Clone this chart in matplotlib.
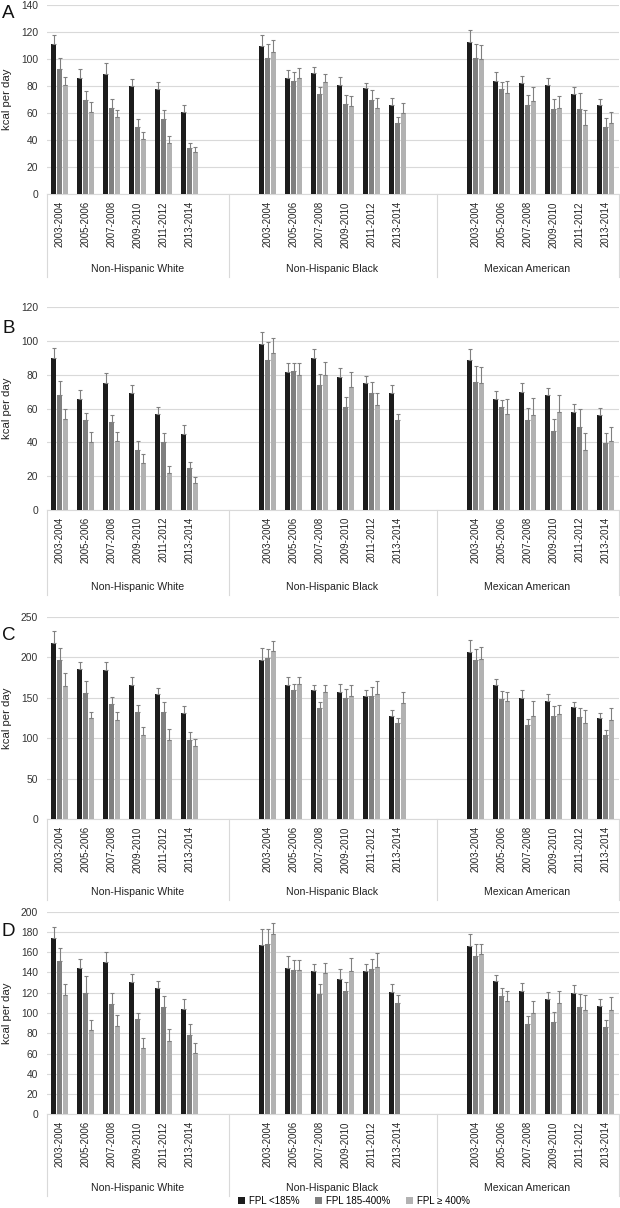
import numpy as np
import matplotlib
matplotlib.use('Agg')
import matplotlib.pyplot as plt
from matplotlib.patches import Patch
import matplotlib.transforms as mtransforms

plt.rcParams['font.family'] = ['Liberation Sans', 'DejaVu Sans']

years = ['2003-2004', '2005-2006', '2007-2008', '2009-2010', '2011-2012', '2013-2014']
groups = ['Non-Hispanic White', 'Non-Hispanic Black', 'Mexican American']
series = ['FPL <185%', 'FPL 185-400%', 'FPL \u2265 400%']
colors = ['#1c1c1c', '#7f7f7f', '#b2b2b2']
nan = np.nan

# values: White (6 years), Black (6 years), Mexican American (6 years)
# panel A
a_low = [111, 86, 89, 80, 78, 61, 110, 86, 90, 81, 78.5, 66, 113, 84, 82, 81, 74, 66]
a_mid = [93, 70, 64, 50, 56, 34, 101, 84, 74, 67, 70, 53, 101, 78, 66, 63, 63, 50]
a_high = [81, 61, 57, 41, 38, 31, 105, 86, 83, 65, 64, 60, 100, 75, 69, 64, 51, 53]
a_low_err = [6.6, 6.7, 8.1, 5, 5.2, 5.2, 7.9, 5.7, 4.2, 5.7, 4, 5.2, 8.4, 6.2, 5.4, 5.2, 5.7, 4.2]
a_mid_err = [7.9, 6.1, 6.2, 5.4, 6.4, 3.7, 10.1, 6.4, 5, 6.4, 6.9, 4.4, 10.1, 5.4, 7.4, 7.4, 11.8, 6.7]
a_high_err = [5.9, 6.9, 5.7, 5.2, 5.2, 4, 9.4, 7.6, 6.2, 7.6, 7.4, 7.2, 10.6, 8.9, 10.1, 8.9, 11.6, 7.6]

# panel B
b_low = [90, 66, 75, 69, 57, 45, 98, 81.5, 90, 79, 75, 69, 89, 66, 70, 68, 58, 56]
b_mid = [68, 53, 52, 35.5, 40, 25, 89, 82, 74, 61, 69, 53, 76, 61, 53, 47, 49, 39.5]
b_high = [54, 40, 41, 28, 22, 16, 93, 80, 80, 73, 62, nan, 75, 57, 56, 58, 35.5, 41]
b_low_err = [6.1, 4.8, 6.1, 5.1, 3.8, 5.3, 7.3, 5.3, 5.5, 4.8, 4.3, 4.9, 6.5, 4.6, 5.3, 4.1, 4.8, 4.2]
b_mid_err = [8.5, 4.7, 4.5, 5.2, 5.7, 3.7, 10.3, 5.3, 6.7, 5.7, 6.7, 4.1, 9.5, 4.3, 7.5, 6.7, 10.5, 6.3]
b_high_err = [5.5, 5.9, 5.4, 5.4, 4.1, 3.3, 8.6, 7.1, 7.5, 8.7, 7.3, nan, 9.5, 8.7, 10.5, 10.1, 10.1, 7.9]

# panel C
c_low = [217, 186, 184, 166, 155, 131, 197, 166, 159, 157, 152, 127, 206, 166, 150, 146, 139, 125]
c_mid = [196, 156, 142, 132, 132, 98, 199, 160, 137, 150, 152, 119, 196, 149, 116, 127, 126, 104]
c_high = [165, 125, 122, 104, 98, 90, 208, 167, 157, 152, 154, 144, 198, 146, 128, 130, 119, 122]
c_low_err = [15.2, 8.6, 9.9, 9.9, 7.4, 8.2, 13.9, 9.5, 6.6, 10.3, 7.4, 7.4, 15.6, 7, 9.8, 9, 5.7, 6.2]
c_mid_err = [15.2, 14.4, 9.4, 8.6, 12.3, 10.2, 11.1, 7, 7.4, 10.7, 11.6, 6.6, 14.4, 9.9, 7.8, 13.2, 11.5, 6.8]
c_high_err = [15.2, 7.4, 10.7, 10.3, 13.5, 9.5, 11.6, 8.7, 9, 14, 16.4, 12.8, 14.4, 11.5, 17.7, 10.7, 15.7, 15.7]

# panel D
d_low = [174, 144, 150, 131, 125, 104, 167, 144, 141, 134, 141, 121, 166, 132, 122, 114, 120, 107]
d_mid = [151, 120, 109, 94, 106, 78, 168, 142, 119, 122, 143, 110, 156, 117, 89, 91, 106, 86]
d_high = [118, 83, 87, 65.5, 72, 61, 178, 142, 139, 141, 145, nan, 158, 112, 100, 109.5, 103, 103]
d_low_err = [10.5, 9.8, 10.6, 7.2, 6.3, 9.5, 15.5, 11.8, 7.6, 9.2, 7.6, 7.9, 12.2, 5.3, 7.6, 7, 7.6, 6.6]
d_mid_err = [12.8, 16.1, 10.9, 5.6, 11.2, 10.9, 14.8, 10.2, 9.8, 8.9, 10.5, 7.5, 11.8, 7.5, 7.6, 10.2, 13.1, 7.2]
d_high_err = [10.5, 10.2, 11.5, 9.5, 12.2, 9.2, 11.1, 10.6, 9.9, 13.1, 14.5, nan, 9.9, 10.2, 11.9, 12.5, 15.1, 12.9]

panels = [
    ('A', [a_low, a_mid, a_high], [a_low_err, a_mid_err, a_high_err], 140, 20),
    ('B', [b_low, b_mid, b_high], [b_low_err, b_mid_err, b_high_err], 120, 20),
    ('C', [c_low, c_mid, c_high], [c_low_err, c_mid_err, c_high_err], 250, 50),
    ('D', [d_low, d_mid, d_high], [d_low_err, d_mid_err, d_high_err], 200, 20),
]

# layout in pixels: (top, bottom) of each plot area, group label row, panel letter
W, H = 620, 1208
boxes = [(5, 194.3), (307.3, 510), (616.7, 819.3), (911.7, 1114.3)]
group_y = [269, 587, 892, 1188]
letter_y = [13.5, 328, 636, 931]

# category slots: White 0-5, blank, blank, Black 8-13, blank, blank, Mexican 16-21
starts = [0, 8, 16]
xpos = np.array([s + i for s in starts for i in range(len(years))])
seps = [-0.5, 6.5, 14.5, 21.5]
group_centers = [(seps[k] + seps[k + 1]) / 2 for k in range(3)]
bw = 0.21
offs = [-0.225, 0, 0.225]

fig = plt.figure(figsize=(W / 100, H / 100), dpi=100)

for (letter, vals, errs, ymax, step), (top, bot), gy, ly in zip(panels, boxes, group_y, letter_y):
    ax = fig.add_axes([46.5 / W, 1 - bot / H, 572 / W, (bot - top) / H])
    for j in range(3):
        v = np.array(vals[j], dtype=float)
        e = np.array(errs[j], dtype=float)
        ax.bar(xpos + offs[j], v, width=bw, color=colors[j], zorder=3)
        ax.errorbar(xpos + offs[j], v, yerr=[np.zeros_like(e), e], fmt='none',
                    ecolor='#808080', elinewidth=0.8, capsize=1.6, capthick=0.8, zorder=4)
    ax.set_xlim(-0.5, 21.5)
    ax.set_ylim(0, ymax)
    ax.set_yticks(np.arange(0, ymax + 1, step))
    ax.yaxis.grid(True, color='#d9d9d9', linewidth=0.8, zorder=0)
    ax.set_axisbelow(True)
    for s in ['top', 'right', 'left']:
        ax.spines[s].set_visible(False)
    ax.spines['bottom'].set_color('#d9d9d9')
    ax.spines['bottom'].set_linewidth(0.8)
    ax.set_xticks(xpos, years * 3, rotation=90, fontsize=6.9, color='#222222')
    ax.tick_params(axis='x', length=0, pad=5)
    ax.tick_params(axis='y', length=0, pad=6, labelsize=7.4, labelcolor='#333333')
    ax.set_ylabel('kcal per day', fontsize=8.2, color='#222222')
    hpx = bot - top
    ax.yaxis.set_label_coords((12 - 46.5) / 572, 0.5)

    # group labels and separators below the axis
    trans = mtransforms.blended_transform_factory(ax.transData, ax.transAxes)
    for k, g in enumerate(groups):
        ax.text(group_centers[k], -(gy - bot) / hpx, g, transform=trans, ha='center', va='center',
                fontsize=7.6, color='#222222')
    for sx in seps:
        ax.plot([sx, sx], [0, -(gy - bot + 8) / hpx], transform=trans, color='#d9d9d9',
                linewidth=0.8, clip_on=False)

    fig.text(8.5 / W, 1 - ly / H, letter, fontsize=13.5, ha='center', va='center', color='#111111')

handles = [Patch(facecolor=c, edgecolor='none') for c in colors]
fig.legend(handles, series, loc='center', bbox_to_anchor=(354 / W, 1 - 1201 / H), ncol=3,
           frameon=False, fontsize=7, handlelength=0.7, handleheight=0.7,
           handletextpad=0.4, columnspacing=1.6)

fig.savefig('out.png', dpi=100)
